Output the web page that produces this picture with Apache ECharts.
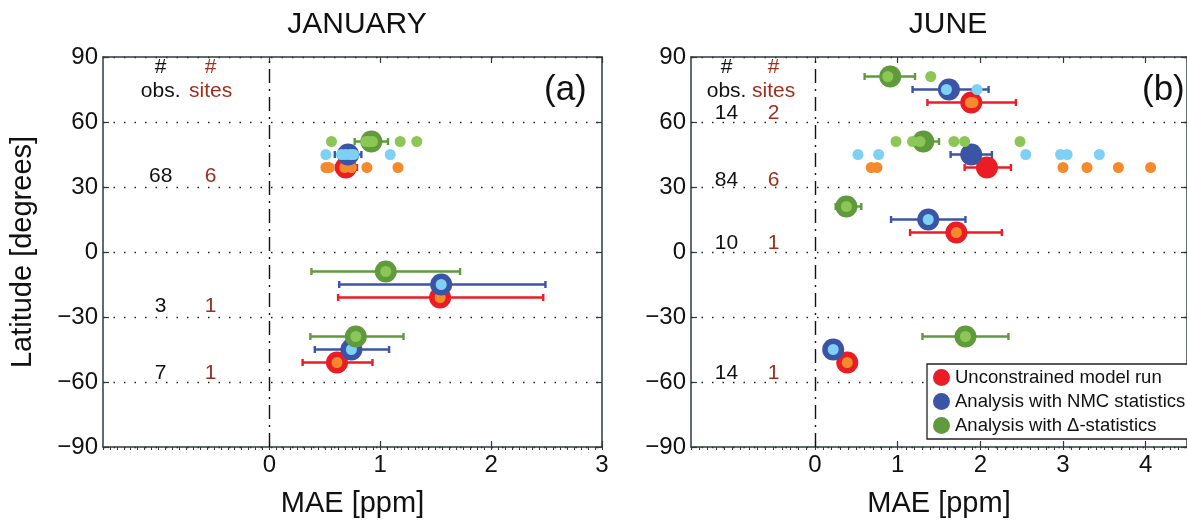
<!DOCTYPE html>
<html>
<head>
<meta charset="utf-8">
<script src="https://cdn.jsdelivr.net/npm/echarts@6/dist/echarts.min.js"></script>
<style>
html,body{margin:0;padding:0;background:#fff;}
#chart{width:1187px;height:523px;}
</style>
</head>
<body>
<div id="chart"></div>
<script>
// ---------------- DATA ----------------
const panelTitles = ['JANUARY', 'JUNE'];
const panelLetters = ['(a)', '(b)'];
const seriesNames = ['Unconstrained model run', 'Analysis with NMC statistics', 'Analysis with \u0394-statistics'];
const xTicksJan = [0, 1, 2, 3];
const xTicksJun = [0, 1, 2, 3, 4];
const yTicks = [-90, -60, -30, 0, 30, 60, 90];

// January: big markers (MAE) with error bar ranges
const janRedLat = [39, -21, -51];
const janRedMAE = [0.69, 1.54, 0.61];
const janRedLo = [0.60, 0.62, 0.30];
const janRedHi = [0.79, 2.47, 0.93];
const janBlueLat = [45, -15, -45];
const janBlueMAE = [0.71, 1.55, 0.74];
const janBlueLo = [0.59, 0.63, 0.41];
const janBlueHi = [0.83, 2.49, 1.08];
const janGreenLat = [51, -9, -39];
const janGreenMAE = [0.92, 1.05, 0.78];
const janGreenLo = [0.77, 0.38, 0.37];
const janGreenHi = [1.07, 1.72, 1.21];
// January: individual sites
const janOrangeX = [0.51, 0.54, 0.68, 0.74, 0.88, 1.16, 1.54, 0.61];
const janOrangeLat = [39, 39, 39, 39, 39, 39, -21, -51];
const janLBlueX = [0.51, 0.65, 0.69, 0.73, 0.76, 1.09, 1.55, 0.74];
const janLBlueLat = [45, 45, 45, 45, 45, 45, -15, -45];
const janLGreenX = [0.56, 0.87, 0.90, 0.93, 1.18, 1.33, 1.05, 0.78];
const janLGreenLat = [51, 51, 51, 51, 51, 51, -9, -39];
// January: counts
const janCountLat = [35, -25, -56];
const janObs = ['68', '3', '7'];
const janSites = ['6', '1', '1'];

// June: big markers
const junRedLat = [69, 39, 9, -51];
const junRedMAE = [1.89, 2.08, 1.71, 0.39];
const junRedLo = [1.36, 1.81, 1.15, 0.33];
const junRedHi = [2.43, 2.37, 2.26, 0.45];
const junBlueLat = [75, 45, 15, -45];
const junBlueMAE = [1.62, 1.89, 1.37, 0.22];
const junBlueLo = [1.18, 1.64, 0.92, 0.16];
const junBlueHi = [2.10, 2.14, 1.82, 0.28];
const junGreenLat = [81, 51, 21, -39];
const junGreenMAE = [0.91, 1.31, 0.38, 1.82];
const junGreenLo = [0.60, 1.17, 0.25, 1.30];
const junGreenHi = [1.21, 1.50, 0.56, 2.34];
// June: individual sites
const junOrangeX = [1.88, 1.91, 0.68, 0.75, 3.00, 3.29, 3.67, 4.06, 1.71, 0.39];
const junOrangeLat = [69, 69, 39, 39, 39, 39, 39, 39, 9, -51];
const junLBlueX = [1.59, 1.96, 0.52, 0.77, 2.55, 2.97, 3.05, 3.44, 1.37, 0.22];
const junLBlueLat = [75, 75, 45, 45, 45, 45, 45, 45, 15, -45];
const junLGreenX = [0.88, 1.40, 0.98, 1.18, 1.27, 1.68, 1.81, 2.48, 0.38, 1.82];
const junLGreenLat = [81, 81, 51, 51, 51, 51, 51, 51, 21, -39];
// June: counts
const junCountLat = [64, 33, 4, -56];
const junObs = ['14', '84', '10', '14'];
const junSites = ['2', '6', '1', '1'];

// column headers
const headerLat = [85.5, 74];
const headerObs = ['#', 'obs.'];
const headerSites = ['#', 'sites'];

// ---------------- STYLE ----------------
const FONT = '"Liberation Sans", Arial, Helvetica, sans-serif';
const AX = '#2c3a40';
const TXT = '#111111';
const SITE_TXT = '#9e2f1e';
const C = {
  red: '#ec1c24', orange: '#f58a2c',
  blue: '#3a55a5', lblue: '#7fd0f5',
  green: '#5f9b3d', lgreen: '#8cc655'
};

const panels = [
  {xmax: 3, ticks: xTicksJan, minor: 0.0625, obsX: -0.98, sitesX: -0.53,
   red: [janRedMAE, janRedLat, janRedLo, janRedHi],
   blue: [janBlueMAE, janBlueLat, janBlueLo, janBlueHi],
   green: [janGreenMAE, janGreenLat, janGreenLo, janGreenHi],
   orange: [janOrangeX, janOrangeLat], lblue: [janLBlueX, janLBlueLat], lgreen: [janLGreenX, janLGreenLat],
   countLat: janCountLat, obs: janObs, sites: janSites},
  {xmax: 4.5, ticks: xTicksJun, minor: 0.1, obsX: -1.07, sitesX: -0.50,
   red: [junRedMAE, junRedLat, junRedLo, junRedHi],
   blue: [junBlueMAE, junBlueLat, junBlueLo, junBlueHi],
   green: [junGreenMAE, junGreenLat, junGreenLo, junGreenHi],
   orange: [junOrangeX, junOrangeLat], lblue: [junLBlueX, junLBlueLat], lgreen: [junLGreenX, junLGreenLat],
   countLat: junCountLat, obs: junObs, sites: junSites}
];

const grids = [
  {left: 103, top: 57, width: 499, height: 390},
  {left: 691, top: 57, width: 504, height: 390}
];

const fmtMinus = v => String(v).replace('-', '\u2212');

const xAxis = [], yAxis = [], series = [];

panels.forEach((p, g) => {
  const xi = g * 3, yi = g * 2;
  xAxis.push({
    gridIndex: g, type: 'value', min: -1.5, max: p.xmax, position: 'bottom',
    axisLine: {show: true, onZero: false, lineStyle: {color: AX, width: 1.5}},
    axisTick: {show: true, inside: true, length: 6, customValues: p.ticks, lineStyle: {color: AX, width: 1.2}},
    axisLabel: {show: true, customValues: p.ticks, fontSize: 24, color: TXT, margin: 6, fontFamily: FONT},
    splitLine: {show: false},
    name: 'MAE [ppm]', nameLocation: 'middle', nameGap: 42,
    nameTextStyle: {fontSize: 29, color: TXT, fontFamily: FONT}
  });
  xAxis.push({
    gridIndex: g, type: 'value', min: -1.5, max: p.xmax, position: 'top',
    axisLine: {show: true, onZero: false, lineStyle: {color: AX, width: 1.5}},
    axisTick: {show: true, inside: true, length: 6, customValues: p.ticks, lineStyle: {color: AX, width: 1.2}},
    axisLabel: {show: false}, splitLine: {show: false}
  });
  xAxis.push({
    gridIndex: g, type: 'value', min: -1.5, max: p.xmax, interval: p.minor, position: 'bottom',
    axisLine: {show: false, onZero: false},
    axisTick: {show: true, inside: false, length: 3, lineStyle: {color: AX, width: 1}},
    axisLabel: {show: false}, splitLine: {show: false}
  });
  yAxis.push({
    gridIndex: g, type: 'value', min: -90, max: 90, interval: 30, position: 'left',
    axisLine: {show: true, onZero: false, lineStyle: {color: AX, width: 1.5}},
    axisTick: {show: true, inside: true, length: 6, lineStyle: {color: AX, width: 1.2}},
    axisLabel: {show: true, fontSize: 24, color: TXT, margin: 5, fontFamily: FONT, formatter: fmtMinus},
    splitLine: {show: true, lineStyle: {color: '#222', width: 1.4, type: [1.5, 9]}},
    name: g === 0 ? 'Latitude [degrees]' : '', nameLocation: 'middle', nameGap: 66,
    nameTextStyle: {fontSize: 29, color: TXT, fontFamily: FONT}
  });
  yAxis.push({
    gridIndex: g, type: 'value', min: -90, max: 90, interval: 30, position: 'right',
    axisLine: {show: true, onZero: false, lineStyle: {color: AX, width: 1.5}},
    axisTick: {show: true, inside: true, length: 6, lineStyle: {color: AX, width: 1.2}},
    axisLabel: {show: false}, splitLine: {show: false}
  });

  // text annotations (counts), plus the zero reference line
  const txt = [];
  headerLat.forEach((lat, i) => {
    txt.push({value: [p.obsX, lat, headerObs[i]], label: {color: TXT}});
    txt.push({value: [p.sitesX, lat, headerSites[i]], label: {color: SITE_TXT}});
  });
  p.countLat.forEach((lat, i) => {
    txt.push({value: [p.obsX, lat, p.obs[i]], label: {color: TXT}});
    txt.push({value: [p.sitesX, lat, p.sites[i]], label: {color: SITE_TXT}});
  });
  series.push({
    type: 'scatter', xAxisIndex: xi, yAxisIndex: yi, symbolSize: 0, silent: true,
    itemStyle: {opacity: 1},
    data: txt,
    label: {show: true, position: 'inside', fontSize: 21, fontFamily: FONT,
            textBorderWidth: 0, opacity: 1,
            formatter: q => q.value[2]},
    markLine: {
      silent: true, symbol: ['none', 'none'], label: {show: false},
      lineStyle: {color: '#111', width: 1.4, type: [14, 6, 2, 6]},
      data: [{xAxis: 0}]
    },
    z: 1
  });

  const groups = [
    ['red', 'orange', 0], ['blue', 'lblue', 1], ['green', 'lgreen', 2]
  ];
  groups.forEach(([big, small, ni]) => {
    const arr = p[big];
    const col = C[big];
    const errData = arr[0].map((v, i) => [v, arr[1][i], arr[2][i], arr[3][i]]);
    series.push({
      type: 'custom', xAxisIndex: xi, yAxisIndex: yi, silent: true,
      data: errData,
      encode: {x: 0, y: 1},
      renderItem: (params, api) => {
        const y = api.value(1);
        const a = api.coord([api.value(2), y]);
        const b = api.coord([api.value(3), y]);
        const cap = 3.5;
        const st = {stroke: col, lineWidth: 2.4};
        return {type: 'group', children: [
          {type: 'line', shape: {x1: a[0], y1: a[1], x2: b[0], y2: b[1]}, style: st},
          {type: 'line', shape: {x1: a[0], y1: a[1] - cap, x2: a[0], y2: a[1] + cap}, style: st},
          {type: 'line', shape: {x1: b[0], y1: b[1] - cap, x2: b[0], y2: b[1] + cap}, style: st}
        ]};
      }
    });
    series.push({
      type: 'scatter', name: seriesNames[ni], xAxisIndex: xi, yAxisIndex: yi,
      symbol: 'circle', symbolSize: 22, itemStyle: {color: col, opacity: 1},
      data: arr[0].map((v, i) => [v, arr[1][i]])
    });
    const sm = p[small];
    series.push({
      type: 'scatter', xAxisIndex: xi, yAxisIndex: yi, silent: true,
      symbol: 'circle', symbolSize: 11, itemStyle: {color: C[small], opacity: 1},
      data: sm[0].map((v, i) => [v, sm[1][i]])
    });
  });
});

const chart = echarts.init(document.getElementById('chart'), null, {renderer: 'canvas'});
chart.setOption({
  animation: false,
  backgroundColor: '#fff',
  grid: grids,
  xAxis: xAxis,
  yAxis: yAxis,
  title: [
    {text: panelTitles[0], left: 352, top: 5, textAlign: 'center', textStyle: {fontSize: 30, fontWeight: 'normal', color: TXT, fontFamily: FONT}},
    {text: panelTitles[1], left: 943, top: 5, textAlign: 'center', textStyle: {fontSize: 30, fontWeight: 'normal', color: TXT, fontFamily: FONT}},
    {text: panelLetters[0], left: 539, top: 68, textStyle: {fontSize: 35, fontWeight: 'normal', color: TXT, fontFamily: FONT}},
    {text: panelLetters[1], left: 1137, top: 68, textStyle: {fontSize: 35, fontWeight: 'normal', color: TXT, fontFamily: FONT}}
  ],
  legend: {
    data: seriesNames, orient: 'vertical', left: 927, top: 364,
    icon: 'circle', itemWidth: 17, itemHeight: 17, itemGap: 5,
    padding: [4, 3, 4, 6],
    backgroundColor: '#fff', borderColor: '#222', borderWidth: 1.3, borderRadius: 0,
    textStyle: {fontSize: 18.5, color: TXT, fontFamily: FONT},
    selectedMode: false, z: 10
  },
  series: series
});
</script>
</body>
</html>
